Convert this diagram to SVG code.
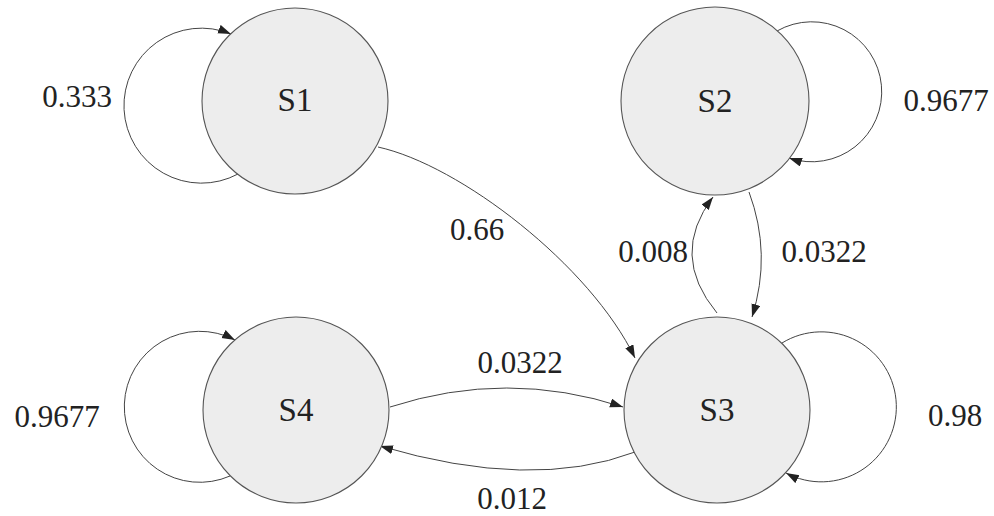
<svg xmlns="http://www.w3.org/2000/svg" width="994" height="516" viewBox="0 0 994 516">
<style>
.node{fill:#ededed;stroke:#555;stroke-width:1.1}
.nl{font-family:'Liberation Serif','DejaVu Serif',serif;font-size:33px;fill:#222;text-anchor:middle}
.el{font-family:'Liberation Serif','DejaVu Serif',serif;font-size:31px;fill:#222;text-anchor:middle}
.edge{fill:none;stroke:#444;stroke-width:1;marker-end:url(#arr)}
</style>
<defs>
<marker id="arr" markerUnits="userSpaceOnUse" markerWidth="14" markerHeight="10" refX="13" refY="4.5" orient="auto">
<path d="M0,0 L13,4.5 L0,9 z" fill="#222"/>
</marker>
</defs>
<rect width="994" height="516" fill="#fff"/>
<g id="connectors">
<path class="edge" d="M238,174 A77.5 77.5 0 1 1 231,34"/>
<path class="edge" d="M777,31 A70 70 0 1 1 789,158"/>
<path class="edge" d="M782,343 A75 75 0 1 1 786,473"/>
<path class="edge" d="M230,476 A75.5 75.5 0 1 1 235,340"/>
<path class="edge" d="M378,147 C460,165 590,265 635,358"/>
<path class="edge" d="M390,407 Q507,369 623,407"/>
<path class="edge" d="M635,452 Q532,491 380,446"/>
<path class="edge" d="M749,192 Q772,254 752,317"/>
<path class="edge" d="M717,313 Q669,255 713,197"/>
<text class="el" x="77" y="107">0.333</text>
<text class="el" x="946" y="111">0.9677</text>
<text class="el" x="477" y="240">0.66</text>
<text class="el" x="653" y="262">0.008</text>
<text class="el" x="824" y="262">0.0322</text>
<text class="el" x="520" y="373">0.0322</text>
<text class="el" x="512" y="509">0.012</text>
<text class="el" x="955" y="426">0.98</text>
<text class="el" x="57" y="427">0.9677</text>
</g>
<g id="S1"><circle class="node" cx="295" cy="101" r="93"/><text class="nl" x="295" y="111">S1</text></g>
<g id="S2"><circle class="node" cx="715" cy="101" r="94"/><text class="nl" x="715" y="112">S2</text></g>
<g id="S3"><circle class="node" cx="717" cy="410" r="93"/><text class="nl" x="717" y="421">S3</text></g>
<g id="S4"><circle class="node" cx="296" cy="410" r="93"/><text class="nl" x="296" y="421">S4</text></g>
</svg>
